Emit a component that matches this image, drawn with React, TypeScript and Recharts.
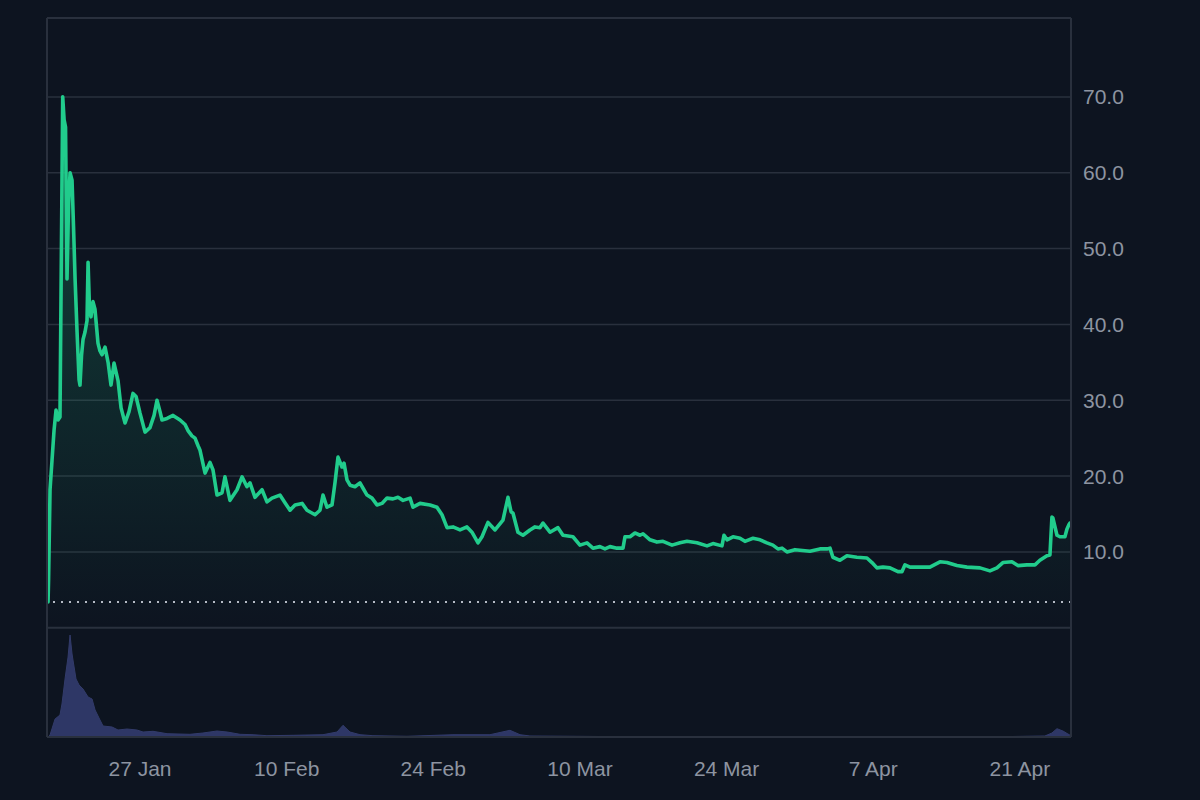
import React from 'react';
import {
  ComposedChart,
  Area,
  XAxis,
  YAxis,
  CartesianGrid,
  ReferenceLine,
} from 'recharts';

// time axis: fractional day of year 2025 (27 = 27 Jan, 41 = 10 Feb ...)
const priceDays = [
  18.22, 18.27, 18.41, 18.6, 18.79, 18.98, 19.17, 19.36, 19.62, 19.75, 19.89, 20.03, 20.18, 20.32,
  20.51, 20.65, 20.8, 20.99, 21.18, 21.27, 21.42, 21.56, 21.75, 21.94, 22.04, 22.18, 22.32, 22.51,
  22.7, 22.99, 23.18, 23.37, 23.66, 23.95, 24.23, 24.52, 24.9, 25.19, 25.57, 25.95, 26.33, 26.62,
  27.0, 27.48, 27.95, 28.34, 28.62, 28.91, 29.1, 29.58, 30.15, 30.82, 31.3, 31.58, 31.96, 32.25,
  32.54, 32.73, 33.21, 33.68, 33.97, 34.35, 34.83, 35.11, 35.59, 36.26, 36.74, 37.21, 37.5, 37.98,
  38.65, 39.12, 39.6, 40.36, 40.84, 41.32, 41.8, 42.47, 42.94, 43.71, 44.18, 44.47, 44.85, 45.33,
  45.62, 45.9, 46.28, 46.48, 46.76, 47.05, 47.52, 48.0, 48.29, 48.67, 49.15, 49.62, 50.1, 50.58,
  51.15, 51.63, 52.11, 52.78, 53.06, 53.73, 54.68, 55.35, 55.83, 56.31, 56.88, 57.55, 58.21, 58.69,
  59.27, 59.65, 60.22, 60.89, 61.65, 62.13, 62.42, 62.61, 63.08, 63.56, 64.23, 64.71, 65.18, 65.47,
  66.14, 66.9, 67.38, 68.33, 69.0, 69.67, 70.24, 70.91, 71.39, 71.87, 72.53, 73.11, 73.3, 73.78,
  74.25, 74.73, 75.02, 75.69, 76.35, 76.93, 77.79, 78.55, 79.22, 80.17, 81.13, 81.7, 82.56, 82.75,
  83.04, 83.61, 84.28, 84.75, 85.52, 86.19, 86.85, 87.42, 87.9, 88.29, 88.76, 89.53, 90.96, 91.91,
  92.58, 92.87, 93.15, 93.82, 94.49, 95.44, 96.4, 96.88, 97.35, 97.93, 98.6, 99.36, 99.74, 100.03,
  100.51, 101.46, 102.41, 103.37, 104.04, 104.51, 104.99, 105.95, 107.19, 108.14, 108.81, 109.38,
  110.24, 110.81, 111.67, 112.44, 112.91, 113.58, 113.87, 114.06, 114.15, 114.54, 114.82, 115.3,
  115.49, 115.68, 115.77,
];
const priceValues = [
  3.4, 6.3, 18.2, 22.1, 26.0, 28.7, 27.4, 27.8, 70.0, 67.0, 66.0, 46.0, 56.0, 60.0,
  59.0, 53.0, 46.0, 39.0, 32.7, 32.0, 36.0, 38.0, 39.0, 40.5, 48.2, 42.0, 41.0, 43.0,
  42.0, 37.5, 36.5, 36.0, 37.0, 35.0, 32.0, 34.9, 32.6, 29.0, 27.0, 28.5, 30.9, 30.5,
  28.3, 25.8, 26.4, 28.0, 30.0, 28.5, 27.4, 27.6, 28.0, 27.4, 26.8, 26.0, 25.3, 25.0,
  24.0, 23.4, 20.4, 21.8, 20.8, 17.5, 17.8, 19.9, 16.8, 18.2, 19.9, 18.6, 19.1, 17.2,
  18.2, 16.6, 17.1, 17.5, 16.5, 15.5, 16.2, 16.4, 15.5, 14.9, 15.5, 17.5, 15.9, 16.2,
  19.2, 22.5, 21.2, 21.7, 19.5, 18.8, 18.6, 19.1, 18.4, 17.5, 17.1, 16.2, 16.4, 17.1,
  17.0, 17.2, 16.8, 17.1, 15.9, 16.4, 16.2, 15.9, 14.9, 13.2, 13.3, 12.9, 13.3, 12.6,
  11.2, 12.0, 13.9, 12.9, 14.2, 17.2, 15.3, 15.1, 12.6, 12.2, 12.9, 13.3, 13.2, 13.8,
  12.6, 13.2, 12.2, 12.0, 10.9, 11.2, 10.5, 10.7, 10.4, 10.7, 10.5, 10.5, 12.0, 12.0,
  12.5, 12.2, 12.4, 11.6, 11.3, 11.4, 10.9, 11.2, 11.4, 11.2, 10.8, 11.1, 10.8, 12.2,
  11.6, 12.0, 11.8, 11.4, 11.8, 11.6, 11.2, 10.9, 10.4, 10.5, 10.0, 10.3, 10.1, 10.4,
  10.4, 10.5, 9.3, 8.9, 9.5, 9.3, 9.2, 8.6, 7.9, 8.0, 7.9, 7.4, 7.4, 8.3,
  8.0, 8.0, 8.0, 8.7, 8.6, 8.4, 8.2, 8.0, 7.9, 7.5, 7.9, 8.6,
  8.7, 8.2, 8.3, 8.3, 8.9, 9.5, 9.6, 14.6, 14.5, 12.2, 12.0, 12.0,
  13.0, 13.6, 13.8,
];

const volumeDays = [
  18.22, 18.41, 18.89, 19.36, 19.55, 19.84, 20.13, 20.32, 20.51, 20.6, 20.89, 21.18, 21.56, 22.04,
  22.42, 22.71, 23.18, 23.47, 24.33, 24.9, 25.76, 26.71, 27.29, 28.24, 29.58, 31.77, 33.01, 34.35,
  35.31, 36.55, 37.79, 39.12, 41.61, 44.47, 45.81, 46.38, 47.05, 48.0, 49.24, 52.49, 56.88, 60.41,
  62.32, 63.28, 64.23, 70.91, 90.01, 109.1, 113.39, 114.06, 114.54, 115.11, 115.59, 115.77,
];
const volumeValues = [
  0, 20, 180, 220, 330, 580, 800, 1020, 830, 770, 580, 520, 480, 400,
  380, 270, 170, 110, 100, 70, 80, 70, 50, 57, 33, 27, 40, 60,
  50, 27, 23, 13, 17, 23, 50, 117, 50, 23, 13, 7, 23, 23,
  67, 23, 10, 5, 3, 3, 10, 40, 83, 60, 30, 20,
];

const tickDays = [27, 41, 55, 69, 83, 97, 111];
const tickLabels = ['27 Jan', '10 Feb', '24 Feb', '10 Mar', '24 Mar', '7 Apr', '21 Apr'];
const priceTicks = [10, 20, 30, 40, 50, 60, 70];
const launchPrice = 3.4;

const priceData = priceDays.map((d, i) => ({ d, p: priceValues[i] }));
const volumeData = volumeDays.map((d, i) => ({ d, v: volumeValues[i] }));

const X_DOMAIN: [number, number] = [18.12, 115.88];
const P_DOMAIN: [number, number] = [-14.4, 80.4];
const V_DOMAIN: [number, number] = [0, 7190];

const BG = '#0d1420';
const GRID = '#29303d';
const TEXT = '#8d94a1';
const GREEN = '#21cc8c';
const FONT = '"Liberation Sans", Arial, Helvetica, sans-serif';

export default function App() {
  return (
    <div
      style={{
        position: 'fixed',
        left: 0,
        top: 0,
        width: 1200,
        height: 800,
        background: BG,
        fontFamily: FONT,
      }}
    >
      <ComposedChart width={1200} height={800} margin={{ top: 18, right: 0, bottom: 0, left: 47 }}>
        <defs>
          <linearGradient id="priceFill" x1="0" y1="0" x2="0" y2="1">
            <stop offset="0%" stopColor={GREEN} stopOpacity={0.26} />
            <stop offset="100%" stopColor={GREEN} stopOpacity={0} />
          </linearGradient>
        </defs>
        <CartesianGrid vertical={false} stroke={GRID} strokeWidth={1.5} yAxisId="price" />
        <XAxis
          dataKey="d"
          type="number"
          domain={X_DOMAIN}
          allowDataOverflow
          ticks={tickDays}
          tickFormatter={(v: number) => tickLabels[tickDays.indexOf(v)] ?? ''}
          height={63}
          tickLine={false}
          axisLine={{ stroke: GRID, strokeWidth: 2 }}
          tickMargin={18}
          tick={{ fill: TEXT, fontSize: 21, fontFamily: FONT }}
        />
        <YAxis
          yAxisId="price"
          orientation="right"
          type="number"
          domain={P_DOMAIN}
          allowDataOverflow
          ticks={priceTicks}
          tickFormatter={(v: number) => v.toFixed(1)}
          width={129}
          tickLine={false}
          axisLine={{ stroke: GRID, strokeWidth: 2 }}
          tickMargin={6}
          tick={{ fill: TEXT, fontSize: 21, fontFamily: FONT, textAnchor: 'start' }}
        />
        <YAxis yAxisId="vol" hide type="number" domain={V_DOMAIN} allowDataOverflow />
        <ReferenceLine yAxisId="price" y={P_DOMAIN[1]} stroke={GRID} strokeWidth={2} />
        <ReferenceLine yAxisId="price" x={X_DOMAIN[0]} stroke={GRID} strokeWidth={2} />
        <ReferenceLine yAxisId="price" y={0} stroke={GRID} strokeWidth={2} />
        <Area
          yAxisId="vol"
          data={volumeData}
          dataKey="v"
          type="linear"
          stroke="#323b6a"
          strokeWidth={1}
          fill="#2e3766"
          fillOpacity={1}
          isAnimationActive={false}
          dot={false}
          activeDot={false}
        />
        <Area
          yAxisId="price"
          data={priceData}
          dataKey="p"
          type="linear"
          baseValue={0}
          stroke={GREEN}
          strokeWidth={3.6}
          strokeLinejoin="round"
          strokeLinecap="round"
          fill="url(#priceFill)"
          fillOpacity={1}
          isAnimationActive={false}
          dot={false}
          activeDot={false}
        />
        <ReferenceLine
          yAxisId="price"
          y={launchPrice}
          stroke="#b4bac4"
          strokeWidth={2}
          strokeDasharray="2 6"
        />
      </ComposedChart>
    </div>
  );
}
